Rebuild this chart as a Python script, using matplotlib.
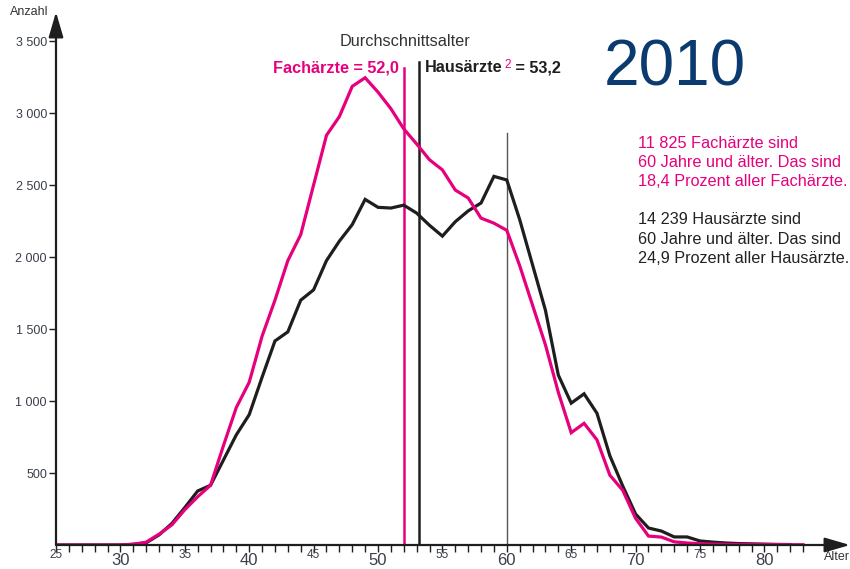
import matplotlib
matplotlib.use("Agg")
import matplotlib.pyplot as plt
import numpy as np

plt.rcParams['font.family'] = ['Liberation Sans', 'DejaVu Sans']

ages = list(range(25, 84))
fachaerzte = [0, 0, 0, 0, 0, 0, 5, 20, 75, 140, 245, 335, 415, 690, 955, 1130,
              1450, 1700, 1975, 2155, 2500, 2845, 2975, 3185, 3245, 3145, 3030,
              2890, 2785, 2675, 2605, 2465, 2410, 2270, 2235, 2185, 1940, 1665,
              1390, 1060, 780, 845, 730, 485, 380, 185, 62, 55, 22, 14, 9, 6, 5,
              4, 4, 3, 3, 2, 2]
ages_h = list(range(25, 83))
hausaerzte = [0, 0, 0, 0, 0, 0, 5, 15, 70, 150, 260, 375, 415, 590, 765, 905,
              1165, 1417, 1480, 1700, 1772, 1975, 2110, 2225, 2400, 2345, 2340,
              2360, 2305, 2220, 2145, 2245, 2320, 2375, 2560, 2535, 2260, 1945,
              1630, 1180, 985, 1050, 915, 620, 410, 215, 118, 97, 56, 56, 28, 20,
              14, 10, 8, 6, 4, 3]

mean_fach = 52.0
mean_haus = 53.2
yticks = [500, 1000, 1500, 2000, 2500, 3000, 3500]
ytick_labels = ["500", "1 000", "1 500", "2 000", "2 500", "3 000", "3 500"]
xticks = [25, 30, 35, 40, 45, 50, 55, 60, 65, 70, 75, 80]

PINK = "#e6007e"
DARK = "#1e1e1e"
NAVY = "#0b3a6e"
TICKC = "#3a3f4a"

W, H = 850, 569
fig = plt.figure(figsize=(W / 100, H / 100), dpi=100)
x0, x1 = 56, 835
y0 = 545
ppu_y = 72 / 500
ymax = 3600
ytop = y0 - ymax * ppu_y
ax = fig.add_axes([x0 / W, (H - y0) / H, (x1 - x0) / W, (y0 - ytop) / H])
ppu_x = 64.4 / 5
ax.set_xlim(25, 25 + (x1 - x0) / ppu_x)
ax.set_ylim(0, ymax)
for s in ax.spines.values():
    s.set_visible(False)
ax.patch.set_alpha(0)

# axis arrows
ax.annotate("", xy=(25 + (850 - x0) / ppu_x, 0), xytext=(25, 0),
            arrowprops=dict(arrowstyle="-|>,head_length=1.1,head_width=0.32",
                            color=DARK, lw=1.6, mutation_scale=14,
                            shrinkA=0, shrinkB=0), annotation_clip=False)
ax.annotate("", xy=(25, (y0 - 12) / ppu_y), xytext=(25, 0),
            arrowprops=dict(arrowstyle="-|>,head_length=1.1,head_width=0.32",
                            color=DARK, lw=1.6, mutation_scale=14,
                            shrinkA=0, shrinkB=0), annotation_clip=False)

# reference lines
ax.plot([60, 60], [0, 2860], color="#555555", lw=1.0)
ax.plot([mean_fach, mean_fach], [0, 3315], color=PINK, lw=1.8)
ax.plot([mean_haus, mean_haus], [0, 3355], color=DARK, lw=1.8)

ax.plot(ages_h, hausaerzte, color=DARK, lw=2.3, solid_joinstyle="miter")
ax.plot(ages, fachaerzte, color=PINK, lw=2.3, solid_joinstyle="miter")

# ticks
ax.set_xticks(xticks)
ax.set_xticks(range(25, 84), minor=True)
ax.set_xticklabels([str(v) for v in xticks])
ax.tick_params(axis="x", which="both", direction="out", length=5, width=1,
               color=DARK, pad=1)
for lab, v in zip(ax.get_xticklabels(), xticks):
    if v % 10 == 0:
        lab.set_fontsize(12)
    else:
        lab.set_fontsize(8.5)
        lab.set_y(0.008)
    lab.set_color(TICKC)
ax.set_yticks(yticks)
ax.set_yticklabels(ytick_labels)
ax.tick_params(axis="y", direction="out", length=5, width=1, color=DARK,
               labelsize=9, labelcolor=TICKC, pad=1.5)

# texts
def ft(x, y, s, **kw):
    return fig.text(x / W, 1 - y / H, s, **kw)

FS = 11.7
ft(29, 12, "Anzahl", fontsize=9, color="#333333", ha="center", va="center")
ft(837, 557, "Alter", fontsize=9, color="#333333", ha="center", va="center")
ft(405, 42, "Durchschnittsalter", fontsize=FS, color="#333333",
   ha="center", va="center")
ft(399, 68, "Fachärzte = 52,0", fontsize=FS, color=PINK, fontweight="bold",
   ha="right", va="center")
t1 = ft(425, 68, "Hausärzte", fontsize=FS, color=DARK, fontweight="bold",
        ha="left", va="center")
t2 = ax.annotate("2", xy=(1.02, 1.12), xycoords=t1, ha="left", va="top",
                 fontsize=8.5, color=PINK, annotation_clip=False)
ax.annotate(" = 53,2", xy=(1.0, 0.0), xycoords=(t2, t1), ha="left",
            va="bottom", fontsize=FS, color=DARK, fontweight="bold",
            annotation_clip=False)
ft(675, 68, "2010", fontsize=46, color=NAVY, ha="center", va="center")

pink_lines = ["11 825 Fachärzte sind", "60 Jahre und älter. Das sind",
              "18,4 Prozent aller Fachärzte."]
dark_lines = ["14 239 Hausärzte sind", "60 Jahre und älter. Das sind",
              "24,9 Prozent aller Hausärzte."]
for i, s in enumerate(pink_lines):
    ft(638, 143 + 19.5 * i, s, fontsize=FS, color=PINK, ha="left",
       va="center")
for i, s in enumerate(dark_lines):
    ft(638, 220 + 19.5 * i, s, fontsize=FS, color="#222222", ha="left",
       va="center")

fig.savefig("out.png", dpi=100)
